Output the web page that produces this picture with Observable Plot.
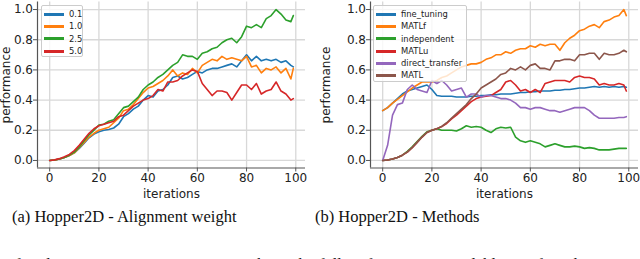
<!DOCTYPE html>
<html>
<head>
<meta charset="utf-8">
<script src="https://cdn.jsdelivr.net/npm/d3@7"></script>
<script src="https://cdn.jsdelivr.net/npm/@observablehq/plot@0.6"></script>
<style>
  html, body { margin: 0; padding: 0; background: white; }
  #fig { position: relative; width: 640px; height: 259px; overflow: hidden; background: white; }
  .chart { position: absolute; top: 0; }
  .legend { position: absolute; background: rgba(255,255,255,0.8); border: 1px solid #cccccc; border-radius: 2px;
            box-sizing: border-box; padding: 2px 0 0 0; font-family: "DejaVu Sans", sans-serif; font-size: 8.4px; color: #222; }
  .legend .row { height: 12.3px; line-height: 12.3px; display: flex; align-items: center; white-space: nowrap; }
  .legend .sw { width: 20px; height: 3px; margin-left: 2px; margin-right: 5px; flex: none; }
  .cap { position: absolute; font-family: "Liberation Serif", "Times New Roman", serif; font-size: 16.5px; line-height: 16.5px; color: #111; white-space: nowrap; }
</style>
</head>
<body>
<div id="fig"></div>
<script>
// ---------- shared axes ----------
const xTicks = [0, 20, 40, 60, 80, 100];
const yTicks = [0, 0.2, 0.4, 0.6, 0.8, 1.0];
const xDomain = [-4.95, 103.95];
const yDomain = [-0.05, 1.05];
const iterations = [0,2,4,6,8,10,12,14,16,18,20,22,24,26,28,30,32,34,36,38,40,42,44,46,48,50,52,54,56,58,60,62,64,66,68,70,72,74,76,78,80,82,84,86,88,90,92,94,96,98,99];

// ---------- (a) Alignment weight ----------
const seriesA = ["0.1", "1.0", "2.5", "5.0"];
const colorsA = ["#1f77b4", "#ff7f0e", "#2ca02c", "#d62728"];
const w01 = [0,0.003,0.01,0.02,0.033,0.05,0.08,0.115,0.15,0.175,0.19,0.2,0.205,0.215,0.24,0.29,0.31,0.34,0.36,0.4,0.43,0.42,0.46,0.47,0.5,0.55,0.56,0.54,0.55,0.57,0.59,0.58,0.6,0.61,0.61,0.62,0.63,0.64,0.62,0.66,0.7,0.66,0.69,0.66,0.67,0.66,0.67,0.65,0.66,0.63,0.62];
const w10 = [0,0.003,0.01,0.02,0.033,0.05,0.085,0.12,0.155,0.18,0.2,0.21,0.22,0.25,0.28,0.33,0.34,0.37,0.41,0.45,0.48,0.49,0.51,0.53,0.56,0.6,0.56,0.58,0.57,0.61,0.58,0.63,0.65,0.67,0.66,0.69,0.67,0.68,0.67,0.66,0.69,0.62,0.63,0.58,0.61,0.6,0.62,0.58,0.61,0.54,0.61];
const w25 = [0,0.003,0.01,0.02,0.035,0.055,0.09,0.13,0.17,0.2,0.235,0.24,0.26,0.27,0.31,0.35,0.36,0.39,0.42,0.47,0.5,0.52,0.55,0.57,0.6,0.63,0.65,0.7,0.69,0.69,0.67,0.71,0.72,0.74,0.75,0.78,0.8,0.81,0.78,0.82,0.89,0.88,0.9,0.88,0.94,0.96,1.0,0.97,0.93,0.92,0.96];
const w50 = [0,0.004,0.012,0.025,0.04,0.065,0.1,0.14,0.18,0.21,0.23,0.24,0.25,0.26,0.29,0.3,0.33,0.36,0.38,0.4,0.41,0.43,0.47,0.46,0.52,0.52,0.53,0.56,0.58,0.6,0.59,0.51,0.47,0.43,0.46,0.46,0.45,0.4,0.45,0.5,0.5,0.47,0.51,0.44,0.46,0.47,0.52,0.46,0.44,0.4,0.41];
const valuesA = [w01, w10, w25, w50];

// ---------- (b) Methods ----------
const seriesB = ["fine_tuning", "MATLf", "independent", "MATLu", "direct_transfer", "MATL"];
const colorsB = ["#1f77b4", "#ff7f0e", "#2ca02c", "#d62728", "#9467bd", "#8c564b"];
const fineTuning = [0.33,0.35,0.38,0.41,0.44,0.46,0.47,0.48,0.49,0.5,0.47,0.43,0.425,0.425,0.425,0.42,0.42,0.42,0.425,0.425,0.43,0.43,0.435,0.435,0.44,0.44,0.44,0.445,0.45,0.45,0.455,0.455,0.46,0.46,0.46,0.465,0.465,0.47,0.47,0.475,0.48,0.48,0.485,0.49,0.485,0.49,0.485,0.49,0.485,0.49,0.485];
const matlf = [0.33,0.35,0.38,0.405,0.43,0.455,0.48,0.5,0.52,0.52,0.52,0.53,0.55,0.56,0.58,0.6,0.62,0.63,0.64,0.64,0.65,0.67,0.68,0.7,0.7,0.72,0.71,0.73,0.74,0.74,0.76,0.75,0.77,0.76,0.77,0.77,0.73,0.78,0.81,0.83,0.86,0.87,0.89,0.9,0.88,0.92,0.93,0.95,0.96,1.0,0.96];
const independent = [0,0.003,0.01,0.02,0.035,0.06,0.09,0.125,0.16,0.19,0.2,0.21,0.2,0.2,0.2,0.195,0.21,0.23,0.22,0.225,0.22,0.2,0.185,0.21,0.22,0.215,0.22,0.155,0.13,0.12,0.13,0.12,0.11,0.09,0.1,0.11,0.1,0.09,0.09,0.095,0.09,0.08,0.085,0.08,0.07,0.07,0.07,0.075,0.08,0.08,0.08];
const matlu = [0,0.003,0.01,0.02,0.035,0.055,0.085,0.12,0.155,0.185,0.2,0.21,0.225,0.245,0.275,0.3,0.33,0.36,0.39,0.41,0.42,0.425,0.43,0.45,0.47,0.52,0.53,0.5,0.46,0.47,0.45,0.47,0.45,0.51,0.52,0.53,0.53,0.53,0.52,0.55,0.56,0.55,0.55,0.54,0.5,0.51,0.5,0.5,0.51,0.5,0.46];
const directTransfer = [0,0.1,0.3,0.37,0.38,0.47,0.5,0.47,0.46,0.45,0.53,0.51,0.53,0.5,0.46,0.47,0.48,0.42,0.44,0.44,0.42,0.43,0.43,0.42,0.41,0.41,0.4,0.38,0.35,0.35,0.34,0.35,0.35,0.34,0.33,0.33,0.32,0.33,0.34,0.35,0.35,0.35,0.33,0.3,0.28,0.28,0.28,0.28,0.285,0.285,0.29];
const matl = [0,0.003,0.01,0.02,0.035,0.055,0.085,0.12,0.155,0.185,0.2,0.21,0.225,0.25,0.28,0.31,0.34,0.37,0.41,0.44,0.48,0.5,0.52,0.54,0.57,0.58,0.61,0.6,0.62,0.6,0.63,0.64,0.61,0.61,0.6,0.66,0.66,0.67,0.67,0.66,0.7,0.7,0.71,0.71,0.67,0.71,0.7,0.7,0.71,0.73,0.72];
const valuesB = [fineTuning, matlf, independent, matlu, directTransfer, matl];

function tidy(names, values) {
  const rows = [];
  names.forEach((name, i) => values[i].forEach((v, j) => rows.push({series: name, x: iterations[j], y: v})));
  return rows;
}

function chart(names, values, colors, opts) {
  const font = "'DejaVu Sans', sans-serif";
  return Plot.plot({
    width: opts.width, height: 200,
    marginLeft: opts.marginLeft, marginRight: opts.marginRight, marginTop: 1.5, marginBottom: 32.5,
    style: {fontFamily: font, fontSize: "12px", color: "#222", background: "white", overflow: "visible"},
    x: {domain: xDomain},
    y: {domain: yDomain},
    color: {domain: names, range: colors},
    marks: [
      Plot.gridX(xTicks, {stroke: "#d8d8d8", strokeOpacity: 1, strokeWidth: 1.3}),
      Plot.gridY(yTicks, {stroke: "#d8d8d8", strokeOpacity: 1, strokeWidth: 1.3}),
      Plot.ruleX([xDomain[0]], {stroke: "#555", strokeWidth: 1.2}),
      Plot.ruleY([yDomain[0]], {stroke: "#555", strokeWidth: 1.2}),
      Plot.axisX(xTicks, {tickSize: 4, tickPadding: 1.5, stroke: "#555", label: "iterations", labelAnchor: "center", labelArrow: "none", labelOffset: 30, fontSize: 12}),
      Plot.axisY(yTicks, {tickSize: 4, tickPadding: 0.5, stroke: "#555", tickFormat: d3.format(".1f"), label: "performance", labelAnchor: "center", labelArrow: "none", labelOffset: opts.labelOffset, fontSize: 12}),
      Plot.line(tidy(names, values), {x: "x", y: "y", stroke: "series", strokeWidth: 1.6})
    ]
  });
}

function legend(names, colors, left, width) {
  const div = document.createElement("div");
  div.className = "legend";
  div.style.left = left + "px";
  div.style.top = "5px";
  div.style.width = width + "px";
  div.style.height = (names.length * 12.3 + 3) + "px";
  names.forEach((n, i) => {
    const row = document.createElement("div");
    row.className = "row";
    const sw = document.createElement("span");
    sw.className = "sw";
    sw.style.background = colors[i];
    const t = document.createElement("span");
    t.textContent = n;
    row.append(sw, t);
    div.append(row);
  });
  return div;
}

const fig = document.getElementById("fig");
const a = chart(seriesA, valuesA, colorsA, {width: 310, marginLeft: 37, marginRight: 5, labelOffset: 36});
a.classList.add("chart"); a.style.left = "0px";
const b = chart(seriesB, valuesB, colorsB, {width: 320, marginLeft: 50, marginRight: 2, labelOffset: 49});
b.classList.add("chart"); b.style.left = "320px";
fig.append(a, b);
fig.append(legend(seriesA, colorsA, 41, 42));
fig.append(legend(seriesB, colorsB, 373, 94));

const captions = [
  {text: "(a) Hopper2D - Alignment weight", left: 12, top: 209},
  {text: "(b) Hopper2D - Methods", left: 315, top: 209},
  {text: "for learning in a Hopper2D task with full information available. Left: The", left: 15, top: 257}
];
captions.forEach(c => {
  const d = document.createElement("div");
  d.className = "cap";
  d.textContent = c.text;
  d.style.left = c.left + "px";
  d.style.top = c.top + "px";
  if (c.top > 240) d.style.wordSpacing = "8px";
  fig.append(d);
});
</script>
</body>
</html>
